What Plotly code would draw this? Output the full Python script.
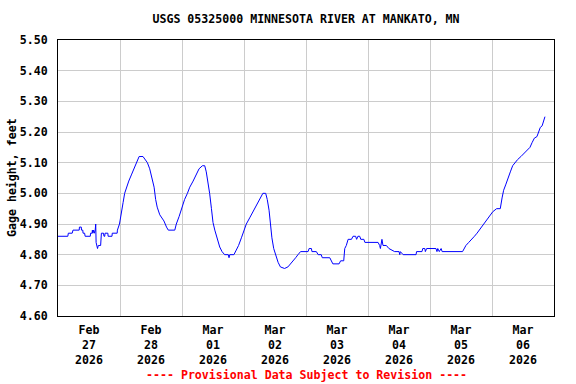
import plotly.graph_objects as go
from datetime import datetime, timedelta

# Hours since 2026-02-27 00:00 and gage height (feet)
hours = [
    0.0, 3.8, 4.0, 5.5, 5.8, 8.2, 8.3, 9.0, 9.1, 9.6, 9.7, 10.3, 10.5, 12.5, 12.6, 13.2,
    13.3, 13.5, 13.8, 14.1, 14.4, 14.6, 14.75, 15.0, 15.3, 15.6, 16.5, 16.8, 17.6, 17.8,
    18.1, 18.2, 19.3, 19.4, 20.9, 21.0, 22.9, 23.0, 23.5, 23.8,
    24.0, 24.5, 25.2, 25.8, 26.5, 27.4, 28.4, 29.4, 30.6, 31.4, 32.9, 33.6, 34.6, 35.5,
    36.4, 37.2, 37.8, 38.4, 39.4, 40.3, 41.0, 42.0, 42.7, 45.2, 45.8, 46.9, 48.0, 49.0,
    50.1, 51.0, 52.3, 53.6, 54.6, 55.9, 56.8, 57.4, 58.1, 58.7, 59.4, 60.0, 60.7, 61.3,
    61.9, 62.6, 63.5, 64.5, 65.9, 66.2, 66.5, 68.1, 69.0, 69.9, 71.0, 72.0,
    72.9, 74.2, 75.5, 76.8, 78.1, 79.3, 80.4, 81.0, 81.7, 82.2, 82.8, 83.5, 84.3, 85.2,
    86.1, 87.7, 89.0, 90.1, 91.0, 92.0, 92.9, 93.9, 96.8, 97.2, 98.1, 98.3, 100.0, 100.7,
    101.9, 102.3, 105.2, 105.8, 106.4, 108.8, 109.4, 110.6, 111.0, 111.6, 112.3, 113.6,
    114.2, 115.2, 115.6, 116.1, 116.8, 117.2, 118.4, 118.8, 123.9, 124.5, 124.8, 125.4,
    125.8, 127.1, 128.1, 130.3, 132.0, 132.3, 132.5, 133.6,
    138.6, 138.8, 140.9, 141.2, 142.0, 142.2, 142.7, 146.3, 146.7, 147.0, 147.6, 148.3,
    148.7, 156.6, 157.3, 157.9, 159.0, 160.3, 161.2, 162.2, 163.1, 164.1, 165.0, 166.3,
    167.2, 168.3, 169.8, 171.2, 171.9, 172.5, 173.4, 174.3, 175.1, 176.0, 176.9, 177.9,
    179.2, 180.5, 181.8, 182.7, 183.5, 184.4, 185.4, 186.1, 186.7, 187.4, 188.0, 188.5,
]
gage_height = [
    4.86, 4.86, 4.87, 4.87, 4.88, 4.88, 4.89, 4.89, 4.88, 4.88, 4.87, 4.87, 4.86, 4.86, 4.87, 4.87,
    4.88, 4.87, 4.88, 4.87, 4.88, 4.90, 4.84, 4.83, 4.82, 4.83, 4.83, 4.87, 4.87, 4.86,
    4.86, 4.87, 4.87, 4.86, 4.86, 4.87, 4.87, 4.88, 4.89, 4.90,
    4.91, 4.94, 4.97, 5.00, 5.02, 5.04, 5.06, 5.08, 5.105, 5.12, 5.12, 5.11, 5.10, 5.08,
    5.05, 5.02, 4.98, 4.955, 4.93, 4.92, 4.91, 4.89, 4.88, 4.88, 4.90, 4.925, 4.955, 4.98,
    5.00, 5.02, 5.04, 5.065, 5.08, 5.09, 5.09, 5.07, 5.035, 5.00, 4.95, 4.905, 4.88, 4.86,
    4.845, 4.825, 4.81, 4.80, 4.80, 4.79, 4.80, 4.80, 4.815, 4.83, 4.855, 4.88,
    4.90, 4.92, 4.94, 4.965, 4.985, 5.00, 5.00, 4.98, 4.945, 4.895, 4.855, 4.82, 4.795, 4.775,
    4.76, 4.755, 4.76, 4.77, 4.78, 4.79, 4.80, 4.81, 4.81, 4.82, 4.82, 4.81, 4.81, 4.80,
    4.80, 4.79, 4.79, 4.78, 4.77, 4.77, 4.78, 4.78, 4.82, 4.83, 4.85, 4.85,
    4.86, 4.86, 4.85, 4.86, 4.86, 4.85, 4.85, 4.84, 4.84, 4.83, 4.82, 4.85,
    4.83, 4.83, 4.82, 4.81, 4.81, 4.80, 4.81, 4.80,
    4.80, 4.81, 4.81, 4.82, 4.82, 4.81, 4.82, 4.82, 4.81, 4.82, 4.81, 4.82,
    4.81, 4.81, 4.82, 4.83, 4.84, 4.85, 4.86, 4.87, 4.88, 4.89, 4.90, 4.915,
    4.925, 4.94, 4.95, 4.95, 4.985, 5.01, 5.03, 5.055, 5.07, 5.09, 5.10, 5.11,
    5.12, 5.13, 5.14, 5.15, 5.165, 5.18, 5.185, 5.20, 5.215, 5.22, 5.235, 5.25,
]

y_ticks = [4.60, 4.70, 4.80, 4.90, 5.00, 5.10, 5.20, 5.30, 5.40, 5.50]
y_tick_labels = ["4.60", "4.70", "4.80", "4.90", "5.00", "5.10", "5.20", "5.30", "5.40", "5.50"]

title_text = "USGS 05325000 MINNESOTA RIVER AT MANKATO, MN"
y_title = "Gage height, feet"
footer = "---- Provisional Data Subject to Revision ----"

start = datetime(2026, 2, 27)
times = [start + timedelta(hours=h) for h in hours]

FONT = "DejaVu Sans Mono"
FS = 11.6

fig = go.Figure()
fig.add_trace(go.Scatter(
    x=times, y=gage_height, mode="lines",
    line=dict(color="#0000ff", width=1),
    showlegend=False, hoverinfo="x+y",
))

fig.update_layout(
    width=576, height=384,
    margin=dict(l=58, r=22, t=40, b=68),
    paper_bgcolor="white", plot_bgcolor="white",
    font=dict(family=FONT, size=FS, color="black", weight="bold"),
    title=dict(text=title_text, x=306 / 576, xanchor="center",
               y=1 - 19 / 384, yanchor="middle", yref="container",
               font=dict(family=FONT, size=FS, color="black", weight="bold")),
    xaxis=dict(
        type="date",
        range=[start, start + timedelta(days=8)],
        dtick=86400000, tick0=start,
        ticklabelmode="period",
        tickformat="%b<br>%d<br>%Y",
        showgrid=True, gridcolor="#cccccc", gridwidth=1,
        showline=True, linecolor="black", linewidth=1, mirror=True,
        ticks="outside", ticklen=3, tickcolor="rgba(0,0,0,0)",
        tickfont=dict(family=FONT, size=FS, color="black", weight="bold"),
        zeroline=False, automargin=False,
    ),
    yaxis=dict(
        range=[4.60, 5.50],
        tickvals=y_ticks, ticktext=y_tick_labels,
        showgrid=True, gridcolor="#cccccc", gridwidth=1,
        showline=True, linecolor="black", linewidth=1, mirror=True,
        ticks="outside", ticklen=7, tickcolor="rgba(0,0,0,0)",
        tickfont=dict(family=FONT, size=FS, color="black", weight="bold"),
        zeroline=False, automargin=False,
    ),
    annotations=[
        dict(
            text=footer, xref="paper", yref="paper", x=0.5, y=0,
            xanchor="center", yanchor="middle", yshift=-59, showarrow=False,
            font=dict(family=FONT, size=FS, color="#ff0000", weight="bold"),
        ),
        dict(
            text=y_title, xref="paper", yref="paper", x=0, y=0.5,
            xanchor="center", yanchor="middle", xshift=-46, textangle=-90,
            showarrow=False,
            font=dict(family=FONT, size=FS, color="black", weight="bold"),
        ),
    ],
)

fig.write_html("out.html", config={"displayModeBar": False},
               post_script="document.body.style.margin='0';")
